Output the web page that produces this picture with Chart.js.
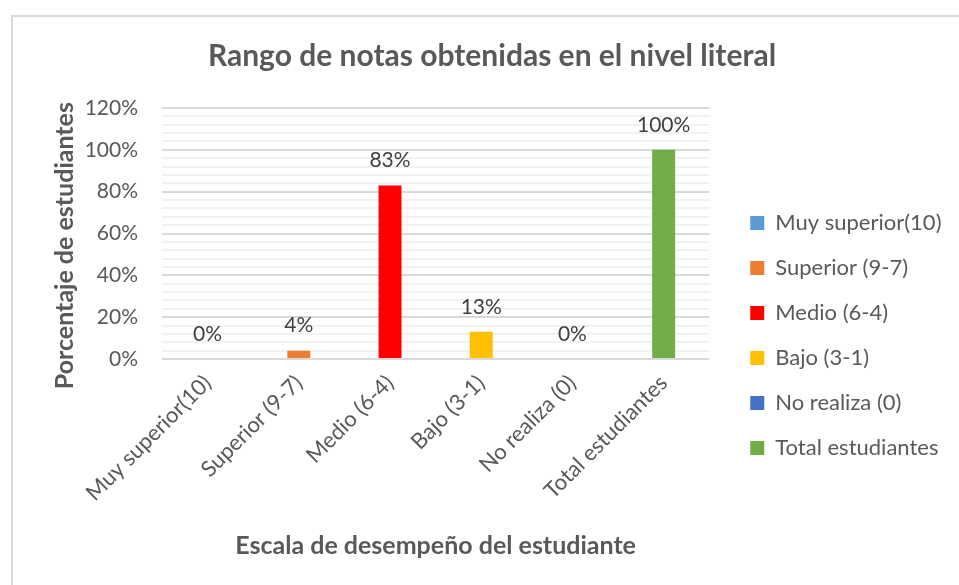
<!DOCTYPE html>
<html><head><meta charset="utf-8">
<script src="https://cdn.jsdelivr.net/npm/chart.js@4.4.1/dist/chart.umd.min.js"></script>
<style>
html,body{margin:0;padding:0;background:#fff;}
#wrap{position:relative;width:959px;height:585px;overflow:hidden;}
#frame{position:absolute;left:11px;top:15px;width:1000px;height:1000px;border-top:2px solid #d9d9d9;border-left:2px solid #d9d9d9;pointer-events:none;}
</style></head><body>
<div id="wrap"><canvas id="c" width="959" height="585"></canvas><div id="frame"></div></div>
<script>
const chartTitle = 'Rango de notas obtenidas en el nivel literal';
const xAxisTitle = 'Escala de desempeño del estudiante';
const yAxisTitle = 'Porcentaje de estudiantes';
const categories = ['Muy superior(10)', 'Superior (9-7)', 'Medio (6-4)', 'Bajo (3-1)', 'No realiza (0)', 'Total estudiantes'];
const seriesNames = ['Muy superior(10)', 'Superior (9-7)', 'Medio (6-4)', 'Bajo (3-1)', 'No realiza (0)', 'Total estudiantes'];
const values = [0, 4, 83, 13, 0, 100];
const seriesColors = ['#5B9BD5', '#ED7D31', '#FF0000', '#FFC000', '#4472C4', '#70AD47'];
const yMin = 0, yMax = 120, yMajorStep = 20, yMinorStep = 4;

const TEXT = '#595959';
const FONT = 'Lato';
Chart.defaults.font.family = FONT;

const datasets = seriesNames.map((name, i) => ({
  label: name,
  data: categories.map((c, j) => (j === i ? values[i] : null)),
  backgroundColor: seriesColors[i],
  borderWidth: 0,
  barPercentage: 0.252,
  categoryPercentage: 1.0
}));

const valueLabels = {
  id: 'valueLabels',
  afterDatasetsDraw(chart) {
    const ctx = chart.ctx;
    ctx.save();
    ctx.font = '21px ' + FONT;
    ctx.fillStyle = '#404040';
    ctx.textAlign = 'center';
    ctx.textBaseline = 'middle';
    chart.data.datasets.forEach((ds, i) => {
      const meta = chart.getDatasetMeta(i);
      meta.data.forEach((el, j) => {
        const v = ds.data[j];
        if (v === null || v === undefined) return;
        ctx.fillText(v + '%', el.x, el.y - 25);
      });
    });
    ctx.restore();
  }
};

new Chart(document.getElementById('c'), {
  type: 'bar',
  data: { labels: categories, datasets },
  plugins: [valueLabels],
  options: {
    responsive: false,
    animation: false,
    devicePixelRatio: 1,
    layout: { padding: { left: 32.5, right: 7.5, top: 38, bottom: 10 } },
    plugins: {
      title: {
        display: true, text: chartTitle, color: TEXT,
        font: { size: 30, weight: 'bold' }, padding: { top: 0, bottom: 34 }
      },
      legend: {
        position: 'right', align: 'start', maxWidth: 400,
        title: { display: true, text: ' ', font: { size: 1, lineHeight: 1 }, padding: { top: 150, bottom: 0 } },
        labels: { boxWidth: 14, boxHeight: 14, padding: 23, color: TEXT, font: { size: 22 } }
      },
      tooltip: { enabled: false }
    },
    scales: {
      x: {
        stacked: true,
        grid: { display: false },
        border: { display: false },
        ticks: { color: TEXT, font: { size: 22 }, minRotation: 45, maxRotation: 45, autoSkip: false, padding: 3 },
        title: { display: true, text: xAxisTitle, color: TEXT, font: { size: 25, weight: 'bold' }, padding: { top: 0, bottom: 14 } },
        afterFit(s) { s.height = 216; }
      },
      y: {
        stacked: true, min: yMin, max: yMax,
        ticks: {
          stepSize: yMinorStep, autoSkip: false, color: TEXT, font: { size: 21 }, padding: 24,
          callback: v => (v % yMajorStep === 0 ? v + '%' : '')
        },
        grid: {
          drawTicks: false, lineWidth: 2,
          color: c => (c.tick && c.tick.value % yMajorStep === 0 ? '#d9d9d9' : '#f2f2f2')
        },
        border: { display: false },
        title: { display: true, text: yAxisTitle + '\u00A0\u00A0\u00A0\u00A0', color: TEXT, font: { size: 25, weight: 'bold' }, padding: { top: 17.5, bottom: 0 } },
        afterFit(s) { s.width = 129.5; }
      },
      yR: {
        position: 'right', display: true,
        grid: { display: false }, border: { display: false }, ticks: { display: false },
        afterFit(s) { s.width = 18; }
      }
    }
  }
});
</script>
</body></html>
